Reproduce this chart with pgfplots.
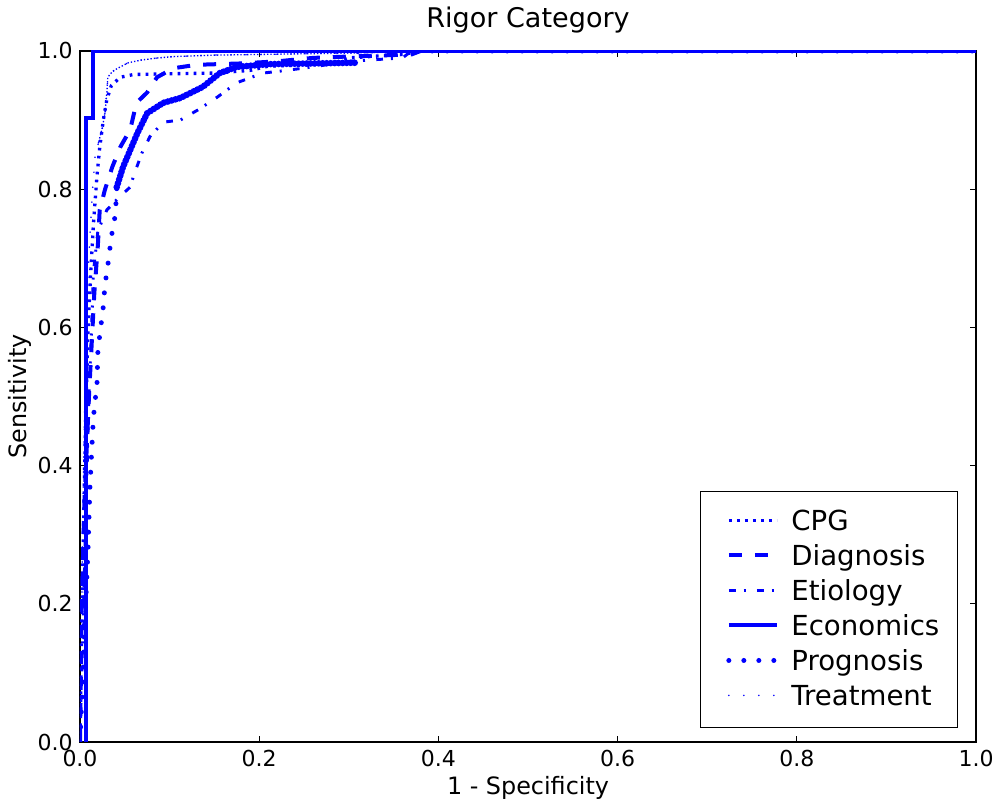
\documentclass[border=0pt]{standalone}
\usepackage{fontspec}
\setmainfont{DejaVu Sans}
\usepackage{pgfplots}
\pgfplotsset{compat=1.18}
\definecolor{mblue}{RGB}{0,0,255}

\begin{document}
\begin{tikzpicture}
\useasboundingbox (-60pt,-47.25pt) rectangle (692.25pt,556.5pt);
\begin{axis}[
  at={(0pt,0pt)}, anchor=south west,
  scale only axis, width=672pt, height=518.25pt,
  xmin=0, xmax=1, ymin=0, ymax=1,
  xtick={0,0.2,0.4,0.6,0.8,1}, ytick={0,0.2,0.4,0.6,0.8,1},
  tick align=inside, major tick length=4.5pt,
  every tick/.style={black, line width=0.75pt},
  axis line style={line width=1pt},
  /pgf/number format/fixed, /pgf/number format/fixed zerofill,
  /pgf/number format/precision=1, /pgf/number format/assume math mode=true,
  ticklabel style={font=\fontsize{16.5}{19}\selectfont},
  xticklabel style={anchor=base, yshift=-18.75pt, inner sep=0pt},
  yticklabel style={anchor=east, xshift=-5.25pt, inner sep=0pt},
  every axis title shift=0pt,
  title={Rigor Category},
  title style={at={(axis description cs:0.5,1.0333)}, anchor=base, inner sep=0pt, font=\fontsize{20.3}{24}\selectfont},
  xlabel={1 - Specificity},
  xlabel style={at={(axis description cs:0.5,-0.0767)}, anchor=base, inner sep=0pt, font=\fontsize{17.9}{21}\selectfont},
  ylabel={Sensitivity},
  ylabel style={at={(axis description cs:-0.0592,0.5)}, anchor=base, inner sep=0pt, font=\fontsize{17.9}{21}\selectfont},
  legend image code/.code={\path (-6pt,0pt); \draw[#1] (0pt,1pt) -- (36pt,1pt);},
  legend style={at={(axis description cs:0.97991,0.02026)}, anchor=south east,
    draw=black, line width=1pt, fill=white,
    inner xsep=13.5pt, inner ysep=11.4pt,
    column sep=9pt, row sep=3.25pt,
    font=\fontsize{20.7}{25}\selectfont,
    nodes={inner sep=0pt, text height=18pt, text depth=5pt}},
  legend cell align=left,
]
% CPG
\addplot[mblue, line width=2.5pt, dash pattern=on 2pt off 4pt] coordinates {
(0,0) (0.003,0.25) (0.006,0.45) (0.009,0.6) (0.012,0.68) (0.015,0.75) (0.019,0.82)
(0.022,0.86) (0.026,0.9) (0.03,0.93) (0.035,0.95) (0.045,0.962) (0.06,0.966)
(0.1,0.967) (0.15,0.968) (0.19,0.972) (0.21,0.978) (0.28,0.981) (0.3,0.99)
(0.36,0.995) (0.38,1) (1,1)};
\addlegendentry{CPG}
% Diagnosis
\addplot[mblue, line width=3pt, dash pattern=on 9.75pt off 9.75pt] coordinates {
(0,0) (0.002,0.2) (0.005,0.35) (0.01,0.5) (0.014,0.6) (0.016,0.65) (0.02,0.72)
(0.022,0.77) (0.028,0.8) (0.036,0.832) (0.045,0.861) (0.056,0.886) (0.063,0.925)
(0.075,0.94) (0.086,0.962) (0.104,0.975) (0.13,0.98) (0.18,0.982) (0.22,0.985)
(0.26,0.99) (0.3,0.992) (0.37,0.995) (0.38,1) (1,1)};
\addlegendentry{Diagnosis}
% Etiology
\addplot[mblue, line width=2.2pt, dash pattern=on 5pt off 6pt on 1.5pt off 8.5pt] coordinates {
(0,0) (0.003,0.15) (0.007,0.35) (0.01,0.5) (0.013,0.6) (0.015,0.68) (0.02,0.74)
(0.03,0.77) (0.045,0.79) (0.056,0.803) (0.06,0.82) (0.069,0.852) (0.078,0.876)
(0.093,0.897) (0.112,0.9) (0.132,0.915) (0.153,0.933) (0.175,0.954) (0.204,0.968)
(0.231,0.972) (0.26,0.977) (0.3,0.985) (0.36,0.99) (0.37,1) (1,1)};
\addlegendentry{Etiology}
% Economics
\addplot[mblue, line width=3pt] coordinates {
(0.007,0) (0.007,0.903) (0.014,0.903) (0.014,1) (1,1)};
\addlegendentry{Economics}
% Prognosis
\addplot[mblue, line width=3.75pt, line cap=round, dash pattern=on 0pt off 11.25pt] coordinates {
(0,0) (0.003,0.09) (0.006,0.19) (0.009,0.28) (0.011,0.365) (0.013,0.42) (0.015,0.47)
(0.019,0.52) (0.02,0.567) (0.026,0.63) (0.028,0.664) (0.03,0.679) (0.035,0.731)
(0.039,0.76) (0.041,0.794) (0.041,0.803) (0.048,0.832) (0.064,0.881) (0.075,0.91)
(0.093,0.925) (0.112,0.932) (0.137,0.948) (0.156,0.968) (0.175,0.977) (0.212,0.981)
(0.309,0.983) (0.31,1) (1,1)};
\addlegendentry{Prognosis}
% Treatment
\addplot[mblue, line width=1.3pt, line cap=round, dash pattern=on 0pt off 11.25pt] coordinates {
(0,0) (0.002,0.2) (0.004,0.4) (0.006,0.55) (0.008,0.65) (0.011,0.73) (0.014,0.8)
(0.017,0.849) (0.02,0.864) (0.025,0.889) (0.028,0.912) (0.03,0.94) (0.031,0.962)
(0.036,0.97) (0.042,0.975) (0.054,0.983) (0.069,0.987) (0.087,0.99) (0.106,0.992)
(0.15,0.994) (0.2,0.995) (0.3,0.997) (0.4,1) (1,1)};
\addlegendentry{Treatment}
% dense parts of the curves
\addplot[mblue, line width=5pt, line cap=round, dash pattern=on 0pt off 3pt, forget plot] coordinates {
(0.041,0.803) (0.048,0.832) (0.064,0.881) (0.075,0.91) (0.093,0.925) (0.112,0.932)
(0.137,0.948) (0.156,0.968) (0.175,0.977) (0.212,0.981) (0.309,0.983)};
\addplot[mblue, line width=1pt, dash pattern=on 1pt off 1.5pt, forget plot] coordinates {
(0.02,0.864) (0.025,0.889) (0.028,0.912) (0.03,0.94) (0.031,0.962) (0.036,0.97)
(0.042,0.975) (0.054,0.983) (0.069,0.987) (0.087,0.99) (0.106,0.992) (0.15,0.994)
(0.2,0.995) (0.3,0.997) (0.4,1)};
\end{axis}
\end{tikzpicture}
\end{document}
